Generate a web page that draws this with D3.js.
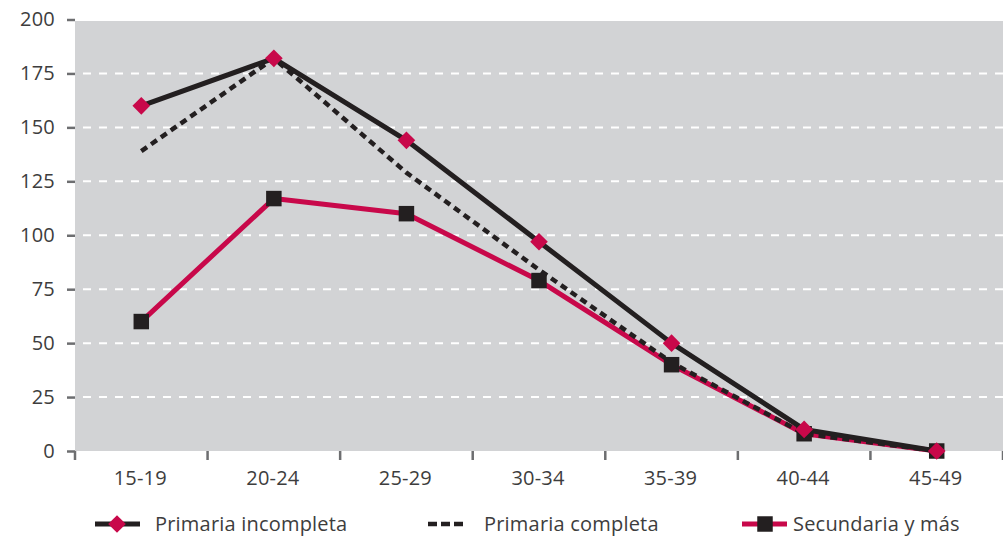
<!DOCTYPE html>
<html>
<head>
<meta charset="utf-8">
<script src="https://cdn.jsdelivr.net/npm/d3@7"></script>
<style>
  html, body { margin: 0; padding: 0; background: #fff; }
  svg { display: block; }
  text { font-family: "Open Sans", "Noto Sans", sans-serif; fill: #3d3d3d; letter-spacing: 0.2px; }
</style>
</head>
<body>
<svg id="chart" width="1003" height="540"></svg>
<script>
// Age groups along the horizontal axis
const categories = ["15-19", "20-24", "25-29", "30-34", "35-39", "40-44", "45-49"];
// Vertical axis ticks
const yTicks = [0, 25, 50, 75, 100, 125, 150, 175, 200];

// Series values per age group
const primariaIncompleta = [160, 182, 144, 97, 50, 10, 0];
const primariaCompleta   = [139, 182, 129, 84, 41, 8, 0];
const secundariaYMas     = [60, 117, 110, 79, 40, 8, 0];

const seriesNames = ["Primaria incompleta", "Primaria completa", "Secundaria y más"];

const RED = "#c8084a", DARK = "#231f20";
const FONT_SIZE = 20;

const svg = d3.select("#chart");
const plotLeft = 75, plotRight = 1003, plotTop = 19.5, plotBottom = 451;

const x = d3.scaleBand().domain(categories).range([plotLeft, plotRight]);
const y = d3.scaleLinear().domain([0, 200]).range([plotBottom, plotTop]);

// Plot background
svg.append("rect")
  .attr("x", plotLeft).attr("y", 21)
  .attr("width", plotRight - plotLeft).attr("height", plotBottom - 21)
  .attr("fill", "#d2d3d5");

// Dashed white gridlines
svg.append("g").selectAll("line")
  .data(yTicks.filter(d => d > 0 && d < 200))
  .join("line")
  .attr("x1", plotLeft + 8).attr("x2", plotRight)
  .attr("y1", d => y(d)).attr("y2", d => y(d))
  .attr("stroke", "#fff").attr("stroke-width", 2)
  .attr("stroke-dasharray", "8,8");

// Y axis: ticks and labels
const yAxis = svg.append("g")
  .attr("transform", `translate(${plotLeft},0)`)
  .call(d3.axisLeft(y).tickValues(yTicks).tickSize(8).tickPadding(12));
yAxis.select(".domain").remove();
yAxis.selectAll(".tick line").attr("stroke", "#6d6e70").attr("stroke-width", 2.5);
yAxis.selectAll(".tick text")
  .style("font-family", '"Open Sans", sans-serif')
  .attr("font-size", FONT_SIZE).attr("fill", "#3d3d3d");

// X axis: ticks at band boundaries, labels centred in bands
const xAxisG = svg.append("g");
const bounds = categories.map(c => x(c)).concat([plotRight]);
xAxisG.selectAll("line")
  .data(bounds)
  .join("line")
  .attr("x1", d => d).attr("x2", d => d)
  .attr("y1", plotBottom).attr("y2", plotBottom + 9)
  .attr("stroke", "#6d6e70").attr("stroke-width", 2.5);
xAxisG.selectAll("text")
  .data(categories)
  .join("text")
  .attr("x", d => x(d) + x.bandwidth() / 2 - 1)
  .attr("y", 485)
  .attr("text-anchor", "middle")
  .attr("font-size", FONT_SIZE)
  .text(d => d);

const cx = (d, i) => x(categories[i]) + x.bandwidth() / 2;
const line = d3.line().x(cx).y(d => y(d));

// Lines
svg.append("path").datum(secundariaYMas)
  .attr("d", line).attr("fill", "none")
  .attr("stroke", RED).attr("stroke-width", 5).attr("stroke-linejoin", "round");
svg.append("path").datum(primariaCompleta)
  .attr("d", line).attr("fill", "none")
  .attr("stroke", DARK).attr("stroke-width", 4.5).attr("stroke-dasharray", "7,5");
svg.append("path").datum(primariaIncompleta)
  .attr("d", line).attr("fill", "none")
  .attr("stroke", DARK).attr("stroke-width", 5).attr("stroke-linejoin", "round");

// Markers
const squareSym = d3.symbol().type(d3.symbolSquare).size(16 * 15);
const diamondSym = d3.symbol().type(d3.symbolSquare).size(12.5 * 12.5);
svg.append("g").selectAll("path")
  .data(secundariaYMas)
  .join("path")
  .attr("transform", (d, i) => `translate(${cx(d, i)},${y(d)})`)
  .attr("d", squareSym).attr("fill", DARK);
svg.append("g").selectAll("path")
  .data(primariaIncompleta)
  .join("path")
  .attr("transform", (d, i) => `translate(${cx(d, i)},${y(d)}) rotate(45)`)
  .attr("d", diamondSym).attr("fill", RED);

// Legend
const ly = 524;
const leg = svg.append("g");
// Primaria incompleta
leg.append("line").attr("x1", 95).attr("x2", 140).attr("y1", ly).attr("y2", ly)
  .attr("stroke", DARK).attr("stroke-width", 5);
leg.append("path").attr("transform", `translate(117,${ly}) rotate(45)`)
  .attr("d", diamondSym).attr("fill", RED);
leg.append("text").attr("x", 155).attr("y", ly + 7).attr("font-size", FONT_SIZE).text(seriesNames[0]);
// Primaria completa
leg.append("line").attr("x1", 428).attr("x2", 463).attr("y1", ly).attr("y2", ly)
  .attr("stroke", DARK).attr("stroke-width", 4.5).attr("stroke-dasharray", "9,4");
leg.append("text").attr("x", 484).attr("y", ly + 7).attr("font-size", FONT_SIZE).text(seriesNames[1]);
// Secundaria y más
leg.append("line").attr("x1", 742).attr("x2", 787).attr("y1", ly).attr("y2", ly)
  .attr("stroke", RED).attr("stroke-width", 5);
leg.append("path").attr("transform", `translate(765,${ly})`)
  .attr("d", squareSym).attr("fill", DARK);
leg.append("text").attr("x", 793).attr("y", ly + 7).attr("font-size", FONT_SIZE).text(seriesNames[2]);
</script>
</body>
</html>
